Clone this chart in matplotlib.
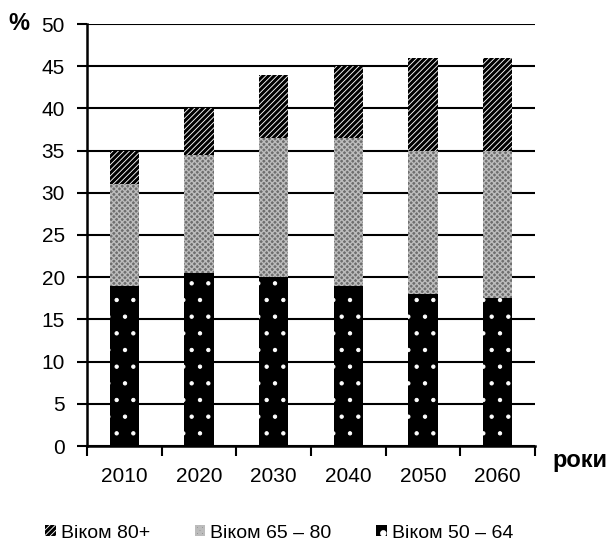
import matplotlib
matplotlib.use('Agg')
import matplotlib.pyplot as plt
import numpy as np

years = ['2010', '2020', '2030', '2040', '2050', '2060']
age_50_64 = [19, 20.5, 20, 19, 18, 17.5]
age_65_80 = [12, 14, 16.5, 17.5, 17, 17.5]
age_80_plus = [4, 5.5, 7.5, 8.5, 11, 11]

plt.rcParams['font.family'] = ['Liberation Sans', 'DejaVu Sans']
plt.rcParams['hatch.linewidth'] = 2.2

fig = plt.figure(figsize=(6.09, 5.45), dpi=100)
ax = fig.add_axes([87 / 609, 1 - 446 / 545, (535 - 87) / 609, (446 - 24) / 545])

x = np.arange(len(years))
w = 0.39
b1 = np.array(age_50_64)
b2 = b1 + np.array(age_65_80)

dark = ax.bar(x, age_50_64, w, color='black', edgecolor='white', hatch='.', linewidth=0,
              zorder=3, label='Віком 50 – 64')
mid = ax.bar(x, age_65_80, w, bottom=b1, color='#6e6e6e', edgecolor='#bcbcbc', hatch='xxxxxx',
             linewidth=0, zorder=3, label='Віком 65 – 80')
ax.bar(x, age_80_plus, w, bottom=b2, color='white', edgecolor='black', hatch='//////',
       linewidth=0, zorder=3, label='Віком 80+')

# thinner hatch lines for dots and checker
for bars, lw in [(dark, 0.7), (mid, 1.0)]:
    for p in bars:
        try:
            p.set_hatch_linewidth(lw)
        except AttributeError:
            pass

ax.set_ylim(0, 50)
ax.set_xlim(-0.5, len(years) - 0.5)
ax.set_yticks(np.arange(0, 51, 5))
ax.yaxis.grid(True, color='black', linewidth=1.5, zorder=0)
ax.set_axisbelow(True)

ax.set_xticks(x)
ax.set_xticklabels(years)
ax.set_xticks(np.arange(-0.5, len(years)), minor=True)
ax.tick_params(axis='x', which='major', length=0, labelsize=15, pad=15)
ax.tick_params(axis='x', which='minor', length=7, width=1.5, direction='out')
ax.tick_params(axis='y', length=7, width=1.5, labelsize=15, pad=9)

for s in ['top', 'right']:
    ax.spines[s].set_visible(False)
for s in ['left', 'bottom']:
    ax.spines[s].set_linewidth(1.8)

fig.text(8 / 609, 1 - 24 / 545, '%', fontsize=17, fontweight='bold', va='center', ha='left')
fig.text(552 / 609, 1 - 461 / 545, 'роки', fontsize=17, fontweight='bold', va='center', ha='left')

handles, labels = ax.get_legend_handles_labels()
order = [2, 1, 0]
fig.legend([handles[i] for i in order], [labels[i] for i in order],
           loc='center', bbox_to_anchor=(279 / 609, 1 - 533 / 545), ncol=3, frameon=False,
           fontsize=14, handlelength=0.55, handleheight=0.55, handletextpad=0.25,
           columnspacing=2.3)

fig.savefig('out.png', dpi=100)
